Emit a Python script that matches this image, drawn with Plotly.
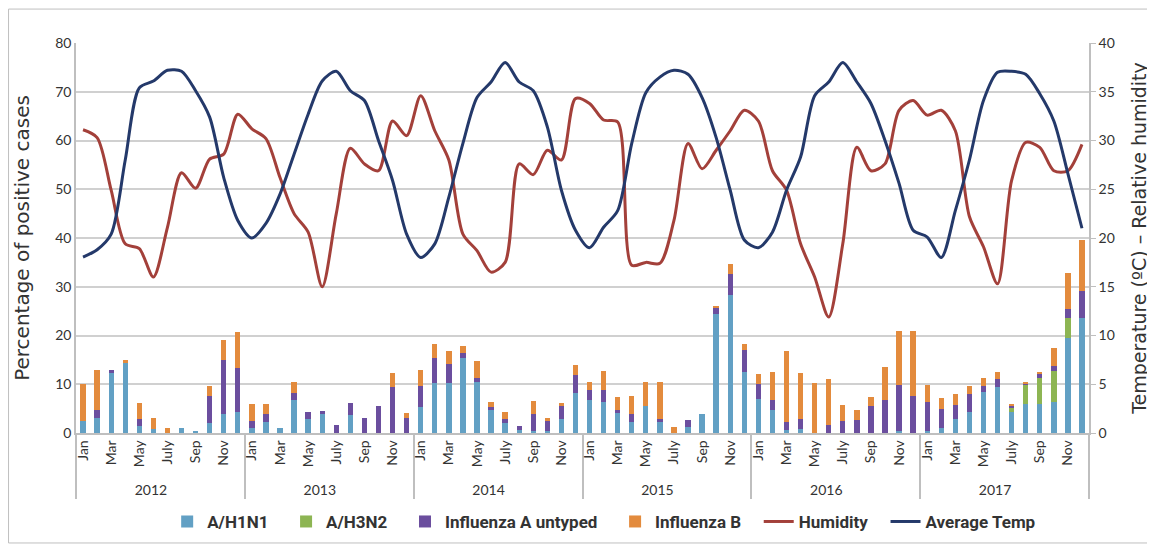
import plotly.graph_objects as go

years = ["2012", "2013", "2014", "2015", "2016", "2017"]
month_labels = ["Jan", " ", "Mar", "  ", "May", "   ", "July", "    ", "Sep", "     ", "Nov", "      "]

h1n1 = [2.5, 3.0, 12.4, 14.4, 1.4, 0.9, 0, 1.1, 0.5, 2.0, 3.9, 4.4,
        1.0, 2.3, 1.1, 6.8, 2.9, 3.8, 0, 3.6, 0, 0, 0, 0,
        5.3, 10.2, 10.2, 15.3, 10.5, 4.8, 2.1, 0.7, 0.4, 0.5, 2.8, 8.2,
        6.8, 6.4, 4.2, 2.3, 5.6, 2.3, 0, 1.2, 4.0, 24.4, 28.4, 12.5,
        7.0, 4.7, 0.6, 0.9, 0, 0, 0, 0, 0, 0, 0.5, 0,
        0.5, 1.0, 2.8, 4.3, 8.4, 9.4, 4.4, 5.9, 6.0, 6.4, 19.5, 23.5]
h3n2 = [0] * 66 + [0.8, 4.0, 5.3, 6.4, 4.0, 0]
untyped = [0, 1.8, 0.5, 0, 1.5, 0, 0, 0, 0, 5.5, 11.0, 9.0,
           1.5, 1.7, 0, 1.5, 1.5, 0.8, 1.7, 2.5, 3.1, 5.5, 9.4, 3.1,
           4.3, 5.2, 3.9, 1.2, 0.8, 0.5, 0.8, 0.7, 3.6, 1.9, 2.7, 3.7,
           2.1, 2.5, 0.5, 1.6, 0, 0.6, 0, 1.4, 0, 1.4, 4.2, 4.6,
           3.1, 2.1, 1.7, 1.9, 0, 1.6, 2.5, 2.7, 5.6, 6.8, 9.3, 7.5,
           5.9, 3.9, 2.9, 3.6, 1.2, 1.6, 0.5, 0.3, 0.9, 1.0, 2.0, 5.6]
flu_b = [7.5, 8.1, 0, 0.5, 3.2, 2.2, 1.1, 0, 0, 2.2, 4.1, 7.4,
         3.4, 1.9, 0, 2.1, 0, 0, 0, 0, 0, 0, 2.9, 1.1,
         3.3, 2.8, 2.8, 1.3, 3.4, 1.0, 1.4, 0, 2.6, 0.6, 0.7, 2.1,
         1.6, 3.9, 2.7, 3.7, 4.8, 7.5, 1.3, 0, 0, 0.3, 2.1, 1.2,
         2.1, 5.8, 14.6, 9.6, 10.3, 9.4, 3.2, 2.1, 1.8, 6.8, 11.2, 13.5,
         3.4, 2.3, 2.2, 1.7, 1.7, 1.6, 0.3, 0.2, 0.4, 3.7, 7.4, 10.5]
humidity = [31.1, 30.3, 24.9, 19.4, 18.9, 16.0, 21.1, 26.7, 25.1, 28.1, 28.6, 32.7,
            31.2, 30.2, 26.2, 22.5, 20.6, 15.0, 22.5, 29.2, 27.6, 26.9, 32.0, 30.5,
            34.6, 31.0, 28.0, 20.4, 18.7, 16.5, 17.5, 27.6, 26.5, 29.0, 28.0, 34.3,
            33.8, 32.1, 31.9, 17.2, 17.5, 17.4, 21.8, 29.7, 27.1, 29.0, 31.0, 33.1,
            32.0, 26.9, 24.9, 19.4, 16.0, 11.9, 19.4, 29.3, 26.9, 27.6, 33.1, 34.1,
            32.6, 33.1, 31.0, 22.2, 19.1, 15.3, 25.9, 29.8, 29.3, 26.9, 26.9, 29.6]
avg_temp = [18.05, 18.8, 20.4, 28.0, 35.4, 36.1, 37.2, 37.1, 35.1, 32.4, 26.2, 21.8,
            20.0, 21.5, 24.5, 28.6, 32.7, 36.1, 37.1, 35.1, 34.1, 30.0, 25.9, 20.4,
            18.0, 19.4, 24.2, 29.7, 34.4, 36.0, 38.0, 36.0, 35.1, 31.4, 24.9, 20.8,
            19.0, 21.1, 22.8, 29.7, 34.9, 36.5, 37.2, 36.8, 34.4, 30.3, 24.9, 19.8,
            19.0, 20.6, 24.9, 28.3, 34.6, 36.0, 38.0, 36.0, 33.8, 30.0, 25.6, 20.8,
            20.1, 18.0, 22.8, 28.0, 34.1, 37.0, 37.1, 36.8, 34.8, 32.0, 26.6, 21.0]

x_year = [y for y in years for _ in month_labels]
x_month = [m for _ in years for m in month_labels]
x = [x_year, x_month]

FONT = "Lato, 'Open Sans', sans-serif"
TITLE_FONT = "'DejaVu Sans', sans-serif"
PAD = "\u00a0\u00a0\u00a0"
fig = go.Figure()
bar_specs = [("A/H1N1", h1n1, "#62A0C4"), ("A/H3N2", h3n2, "#8DB553"),
             ("Influenza A untyped", untyped, "#6B4E9E"), ("Influenza B", flu_b, "#E38B3D")]
for name, vals, col in bar_specs:
    fig.add_trace(go.Bar(x=x, y=vals, name="<b>" + name + "</b>" + PAD, marker_color=col,
                         marker_line_width=0))
fig.add_trace(go.Scatter(x=x, y=humidity, name="<b>Humidity</b>" + PAD, mode="lines",
                         line=dict(color="#A3403A", width=3, shape="spline", smoothing=0.8),
                         yaxis="y2"))
fig.add_trace(go.Scatter(x=x, y=avg_temp, name="<b>Average Temp</b>", mode="lines",
                         line=dict(color="#24396A", width=3, shape="spline", smoothing=0.8),
                         yaxis="y2"))

fig.update_layout(
    width=1147, height=537,
    margin=dict(l=68, r=66, t=35, b=112, autoexpand=False),
    paper_bgcolor="white", plot_bgcolor="white",
    barmode="stack", bargap=0.62,
    font=dict(family=FONT, size=14, color="#333333"),
    xaxis=dict(type="multicategory", tickangle=-90, showline=True, linecolor="#BFBFBF",
               linewidth=1.5, showdividers=True, dividercolor="#BFBFBF", dividerwidth=1.5,
               tickfont=dict(size=14, color="#333333"), ticks=""),
    yaxis=dict(range=[0, 80], dtick=10, showgrid=True, gridcolor="#D0D0D0", gridwidth=1.5,
               showline=True, linecolor="#BFBFBF", linewidth=1.5, zeroline=False,
               automargin=False,
               title=dict(text="Percentage of positive cases",
                          font=dict(size=20, family=TITLE_FONT), standoff=20),
               tickfont=dict(size=14)),
    yaxis2=dict(range=[0, 40], dtick=5, overlaying="y", side="right", showgrid=False,
                showline=True, linecolor="#BFBFBF", linewidth=1.5, ticks="outside",
                ticklen=5, tickcolor="#BFBFBF", zeroline=False, automargin=False,
                title=dict(text="Temperature (ºC) – Relative humidity",
                           font=dict(size=19, family=TITLE_FONT), standoff=19),
                tickfont=dict(size=14)),
    legend=dict(orientation="h", x=0.09, xanchor="left", y=-0.228, yanchor="middle",
                font=dict(family="Roboto, sans-serif", size=17, color="#333333"),
                traceorder="normal", itemwidth=30),
    shapes=[dict(type="rect", xref="paper", yref="paper", x0=-0.0666, x1=1.064, y0=-0.282,
                 y1=1.087, line=dict(color="#BFBFBF", width=1))],
)

fig.write_html("out.html")
